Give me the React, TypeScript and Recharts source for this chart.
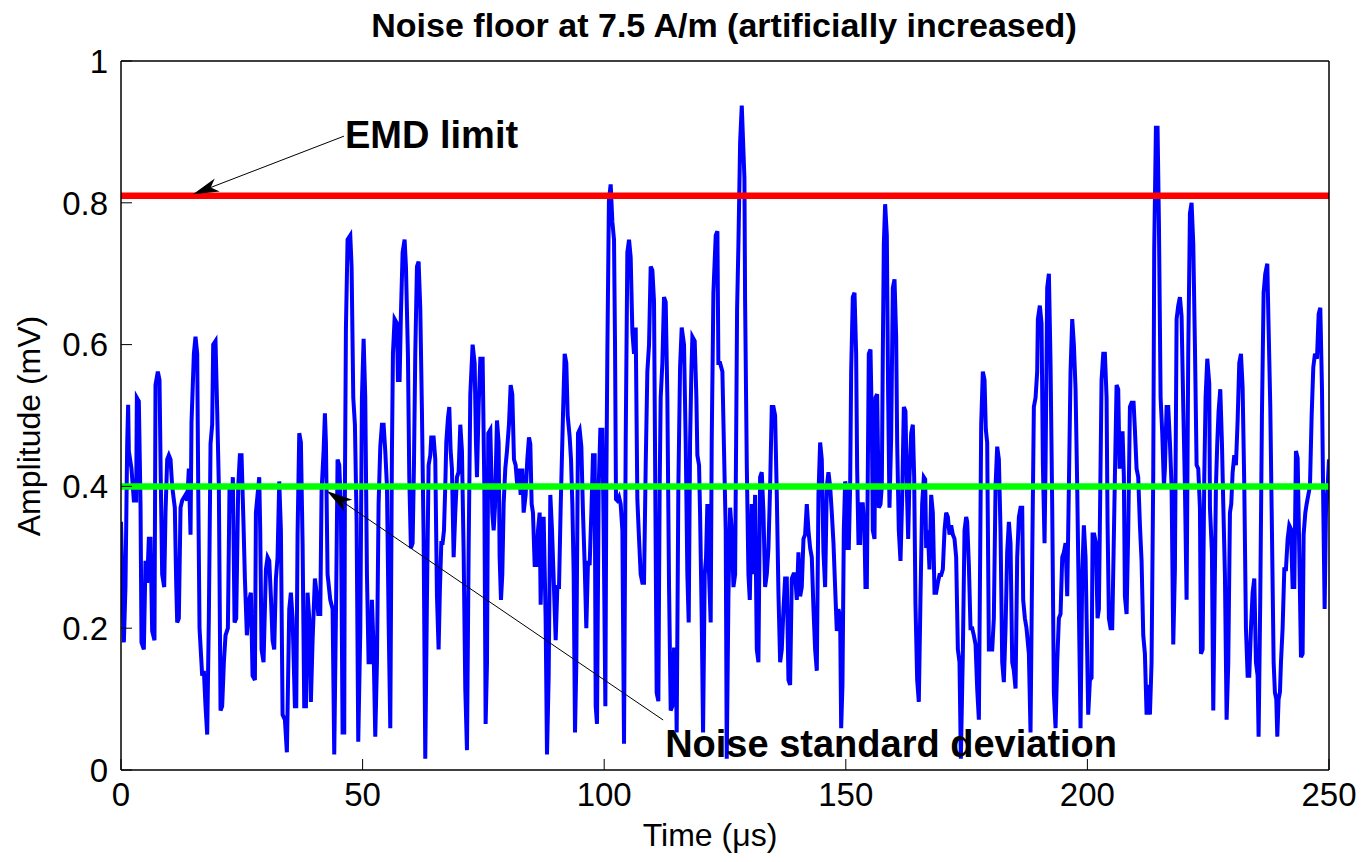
import { LineChart, Line, XAxis, YAxis, ReferenceLine } from "recharts";

// time in µs, amplitude in mV
const NOISE_TRACE: [number, number][] = [
  [0, 0.35], [0.59, 0.18], [0.93, 0.26], [1.28, 0.46], [1.48, 0.515], [1.62, 0.45], [2.17, 0.425], [2.66, 0.38], [3.14, 0.38], [3.28, 0.525],
  [3.69, 0.52], [4.04, 0.375], [4.24, 0.18], [4.73, 0.17], [5.07, 0.295], [5.42, 0.264], [5.76, 0.326], [6.11, 0.326], [6.45, 0.196], [6.93, 0.183],
  [7.14, 0.543], [7.62, 0.562], [7.97, 0.55], [8.25, 0.4], [8.52, 0.276], [8.94, 0.258], [9.21, 0.363], [9.56, 0.438], [9.9, 0.444], [10.25, 0.438],
  [10.59, 0.4], [11.14, 0.37], [11.42, 0.264], [11.63, 0.208], [11.97, 0.214], [12.32, 0.37], [12.66, 0.38], [13.35, 0.388], [13.7, 0.38], [14.04, 0.425],
  [14.39, 0.332], [14.59, 0.49], [15.08, 0.587], [15.42, 0.611], [15.77, 0.587], [15.98, 0.4], [16.25, 0.2], [16.8, 0.133], [17.15, 0.14], [17.49, 0.09],
  [17.84, 0.05], [18.18, 0.214], [18.53, 0.46], [18.87, 0.487], [19.08, 0.6], [19.56, 0.605], [19.91, 0.506], [20.25, 0.4], [20.6, 0.084], [20.94, 0.09],
  [21.29, 0.152], [21.63, 0.19], [22.12, 0.2], [22.46, 0.4], [22.88, 0.363], [23.15, 0.413], [23.5, 0.208], [23.84, 0.214], [24.26, 0.4], [24.6, 0.444],
  [24.95, 0.444], [25.36, 0.345], [25.64, 0.27], [26.05, 0.19], [26.54, 0.24], [26.88, 0.25], [27.23, 0.133], [27.71, 0.127], [27.92, 0.363], [28.26, 0.388],
  [28.61, 0.413], [28.81, 0.338], [29.09, 0.17], [29.5, 0.152], [29.99, 0.283], [30.33, 0.3], [30.68, 0.295], [31.02, 0.245], [31.37, 0.183], [31.71, 0.17],
  [32.06, 0.27], [32.4, 0.3], [32.75, 0.407], [33.09, 0.338], [33.44, 0.078], [33.92, 0.071], [34.33, 0.025], [34.82, 0.227], [35.16, 0.25], [35.51, 0.214],
  [35.99, 0.09], [36.27, 0.09], [36.54, 0.332], [36.89, 0.475], [37.23, 0.462], [37.58, 0.32], [37.92, 0.09], [38.27, 0.09], [38.61, 0.25], [38.96, 0.214],
  [39.3, 0.096], [39.65, 0.183], [40.13, 0.27], [40.48, 0.25], [40.82, 0.22], [41.24, 0.22], [41.51, 0.394], [41.93, 0.45], [42.2, 0.503], [42.41, 0.462],
  [42.75, 0.276], [43.31, 0.24], [43.79, 0.227], [44.13, 0.022], [44.55, 0.258], [44.82, 0.438], [45.17, 0.43], [45.51, 0.37], [45.86, 0.053], [46.2, 0.053],
  [46.34, 0.4], [46.55, 0.624], [46.89, 0.748], [47.45, 0.754], [47.72, 0.71], [48.07, 0.525], [48.41, 0.487], [48.76, 0.35], [49.1, 0.04], [49.52, 0.196],
  [49.86, 0.525], [50.21, 0.608], [50.55, 0.525], [50.9, 0.276], [51.24, 0.152], [51.59, 0.152], [51.93, 0.24], [52.28, 0.17], [52.62, 0.047], [52.97, 0.152],
  [53.31, 0.375], [53.66, 0.456], [54, 0.487], [54.35, 0.487], [54.69, 0.45], [55.04, 0.4], [55.38, 0.214], [55.73, 0.059], [56.07, 0.45], [56.28, 0.587],
  [56.62, 0.636], [57.11, 0.63], [57.31, 0.55], [57.66, 0.55], [57.93, 0.643], [58.28, 0.73], [58.69, 0.748], [58.97, 0.71], [59.38, 0.587], [59.66, 0.413],
  [60, 0.313], [60.35, 0.32], [60.63, 0.43], [60.9, 0.587], [61.25, 0.71], [61.59, 0.717], [61.94, 0.65], [62.28, 0.506], [62.63, 0.326], [62.97, 0.016],
  [63.32, 0.245], [63.66, 0.43], [64.01, 0.444], [64.21, 0.469], [64.7, 0.469], [65.04, 0.438], [65.39, 0.245], [65.73, 0.17], [66.01, 0.258], [66.29, 0.32],
  [66.56, 0.32], [66.84, 0.338], [67.11, 0.4], [67.32, 0.462], [67.67, 0.497], [67.94, 0.512], [68.22, 0.45], [68.49, 0.425], [68.84, 0.3], [69.18, 0.363],
  [69.53, 0.413], [69.87, 0.42], [70.22, 0.487], [70.56, 0.45], [70.91, 0.307], [71.25, 0.115], [71.6, 0.028], [71.94, 0.307], [72.29, 0.53], [72.77, 0.6],
  [73.19, 0.574], [73.46, 0.462], [73.67, 0.413], [74.01, 0.512], [74.36, 0.58], [74.84, 0.58], [75.19, 0.4], [75.46, 0.065], [75.74, 0.15], [76.01, 0.475],
  [76.43, 0.48], [76.84, 0.363], [77.12, 0.338], [77.39, 0.37], [77.81, 0.493], [78.15, 0.462], [78.36, 0.3], [78.64, 0.24], [78.91, 0.276], [79.19, 0.375],
  [79.53, 0.425], [79.88, 0.45], [80.29, 0.487], [80.64, 0.543], [80.98, 0.53], [81.33, 0.438], [81.67, 0.43], [82.02, 0.4], [82.36, 0.425], [82.71, 0.388],
  [83.05, 0.425], [83.33, 0.363], [83.74, 0.388], [84.09, 0.438], [84.43, 0.469], [84.71, 0.46], [84.99, 0.375], [85.26, 0.363], [85.61, 0.289], [85.95, 0.289],
  [86.3, 0.338], [86.64, 0.363], [86.85, 0.233], [87.13, 0.326], [87.47, 0.357], [87.88, 0.214], [88.16, 0.022], [88.51, 0.133], [88.85, 0.388], [89.2, 0.338],
  [89.54, 0.27], [89.96, 0.183], [90.3, 0.258], [90.65, 0.258], [90.99, 0.37], [91.47, 0.5], [91.82, 0.587], [92.16, 0.574], [92.44, 0.5], [92.85, 0.47],
  [93.13, 0.438], [93.41, 0.375], [93.68, 0.276], [93.96, 0.053], [94.23, 0.15], [94.58, 0.475], [94.92, 0.48], [95.27, 0.456], [95.61, 0.363], [95.96, 0.289],
  [96.3, 0.2], [96.65, 0.295], [96.99, 0.289], [97.34, 0.363], [97.68, 0.444], [98.03, 0.444], [98.24, 0.09], [98.51, 0.065], [98.86, 0.4], [99.2, 0.48],
  [99.62, 0.48], [99.89, 0.338], [100.24, 0.09], [100.44, 0.4], [100.65, 0.587], [100.98, 0.804], [101.34, 0.826], [101.69, 0.773], [102.03, 0.748], [102.24, 0.6],
  [102.44, 0.382], [102.72, 0.38], [103.07, 0.385], [103.41, 0.375], [103.76, 0.338], [104.1, 0.037], [104.45, 0.462], [104.79, 0.73], [105.14, 0.748], [105.48, 0.723],
  [105.83, 0.618], [106.17, 0.587], [106.52, 0.624], [106.86, 0.382], [107.21, 0.326], [107.55, 0.276], [107.9, 0.264], [108.24, 0.264], [108.59, 0.43], [108.93, 0.562],
  [109.28, 0.6], [109.62, 0.71], [109.97, 0.705], [110.31, 0.661], [110.52, 0.45], [110.86, 0.109], [111.21, 0.097], [111.48, 0.4], [111.69, 0.525], [112.04, 0.574],
  [112.38, 0.667], [112.73, 0.66], [113.07, 0.525], [113.42, 0.258], [113.76, 0.084], [114.11, 0.09], [114.45, 0.17], [114.8, 0.17], [115, 0.053], [115.35, 0.4],
  [115.7, 0.568], [116.04, 0.624], [116.52, 0.6], [116.87, 0.462], [117.21, 0.276], [117.49, 0.208], [117.77, 0.462], [118.04, 0.562], [118.25, 0.611], [118.73, 0.605],
  [119.08, 0.525], [119.28, 0.444], [119.63, 0.43], [119.84, 0.363], [120.18, 0.214], [120.46, 0.053], [120.8, 0.276], [121.08, 0.3], [121.35, 0.375], [121.7, 0.276],
  [122.04, 0.208], [122.25, 0.462], [122.6, 0.673], [123.08, 0.754], [123.43, 0.76], [123.63, 0.574], [123.98, 0.574], [124.46, 0.562], [124.8, 0.45], [125.15, 0.338],
  [125.36, 0.016], [125.71, 0.245], [126.06, 0.37], [126.4, 0.338], [126.75, 0.258], [127.09, 0.276], [127.3, 0.462], [127.5, 0.649], [127.78, 0.742], [128.13, 0.885],
  [128.47, 0.937], [128.75, 0.885], [129.02, 0.835], [129.16, 0.661], [129.51, 0.43], [129.85, 0.276], [130.13, 0.24], [130.54, 0.375], [130.89, 0.276], [131.23, 0.388],
  [131.58, 0.17], [131.92, 0.152], [132.27, 0.413], [132.61, 0.42], [132.96, 0.363], [133.3, 0.258], [133.65, 0.276], [133.99, 0.313], [134.34, 0.4], [134.68, 0.512],
  [135.03, 0.512], [135.37, 0.5], [135.72, 0.388], [136.06, 0.25], [136.41, 0.152], [136.75, 0.17], [137.1, 0.227], [137.44, 0.27], [137.79, 0.27], [138.13, 0.127],
  [138.48, 0.12], [138.82, 0.27], [139.17, 0.276], [139.51, 0.276], [139.86, 0.24], [140.2, 0.307], [140.55, 0.245], [140.89, 0.258], [141.24, 0.326], [141.58, 0.332],
  [141.93, 0.375], [142.27, 0.338], [142.62, 0.313], [142.96, 0.3], [143.31, 0.227], [143.65, 0.17], [144, 0.14], [144.34, 0.388], [144.69, 0.462], [145.03, 0.438],
  [145.38, 0.307], [145.72, 0.258], [146.07, 0.4], [146.41, 0.42], [146.76, 0.4], [147.1, 0.363], [147.45, 0.32], [147.79, 0.258], [148.14, 0.196], [148.48, 0.227],
  [148.83, 0.214], [149.04, 0.059], [149.31, 0.12], [149.59, 0.338], [149.86, 0.407], [150.07, 0.4], [150.35, 0.313], [150.62, 0.313], [150.9, 0.4], [151.11, 0.562],
  [151.45, 0.667], [151.8, 0.673], [152.14, 0.587], [152.35, 0.425], [152.62, 0.32], [152.97, 0.32], [153.18, 0.375], [153.52, 0.375], [153.87, 0.338], [154.07, 0.258],
  [154.35, 0.258], [154.56, 0.425], [154.76, 0.587], [155.11, 0.593], [155.38, 0.493], [155.59, 0.338], [155.94, 0.326], [156.14, 0.525], [156.49, 0.53], [156.83, 0.37],
  [157.18, 0.375], [157.45, 0.4], [157.66, 0.587], [157.87, 0.742], [158.14, 0.798], [158.49, 0.754], [158.77, 0.525], [159.04, 0.37], [159.39, 0.469], [159.73, 0.68],
  [160.08, 0.692], [160.42, 0.611], [160.63, 0.462], [160.97, 0.338], [161.32, 0.295], [161.66, 0.382], [162.01, 0.512], [162.35, 0.506], [162.63, 0.4], [162.91, 0.326],
  [163.18, 0.413], [163.53, 0.475], [163.87, 0.487], [164.15, 0.413], [164.42, 0.233], [164.77, 0.127], [165.11, 0.096], [165.46, 0.245], [165.8, 0.375], [166.15, 0.413],
  [166.43, 0.41], [166.63, 0.313], [166.98, 0.338], [167.32, 0.283], [167.67, 0.388], [168.01, 0.363], [168.36, 0.25], [168.7, 0.25], [169.05, 0.264], [169.39, 0.275],
  [169.74, 0.275], [170.08, 0.283], [170.43, 0.338], [170.77, 0.363], [171.12, 0.357], [171.46, 0.332], [171.81, 0.345], [172.15, 0.332], [172.5, 0.326], [172.84, 0.3],
  [173.19, 0.17], [173.53, 0.152], [173.81, 0.016], [174.22, 0.164], [174.57, 0.338], [174.91, 0.357], [175.12, 0.35], [175.47, 0.289], [175.81, 0.2], [176.16, 0.2],
  [176.5, 0.19], [176.85, 0.177], [177.19, 0.115], [177.54, 0.071], [177.74, 0.245], [178.02, 0.487], [178.36, 0.562], [178.71, 0.55], [178.98, 0.48], [179.26, 0.462],
  [179.61, 0.17], [179.95, 0.17], [180.3, 0.17], [180.64, 0.214], [180.99, 0.4], [181.33, 0.456], [181.68, 0.438], [182.02, 0.338], [182.37, 0.152], [182.71, 0.124],
  [183.06, 0.2], [183.4, 0.307], [183.75, 0.35], [184.09, 0.32], [184.44, 0.152], [184.78, 0.14], [185.13, 0.115], [185.47, 0.3], [185.82, 0.357], [186.16, 0.37],
  [186.51, 0.37], [186.71, 0.24], [187.06, 0.214], [187.4, 0.2], [187.89, 0.164], [188.23, 0.053], [188.58, 0.3], [188.92, 0.512], [189.27, 0.525], [189.61, 0.562],
  [189.75, 0.636], [190.16, 0.655], [190.51, 0.63], [190.79, 0.43], [191.13, 0.32], [191.34, 0.43], [191.68, 0.68], [192.03, 0.7], [192.37, 0.574], [192.72, 0.37],
  [193.06, 0.109], [193.41, 0.059], [193.75, 0.152], [194.1, 0.214], [194.44, 0.22], [194.79, 0.3], [195.13, 0.307], [195.48, 0.32], [195.82, 0.245], [196.17, 0.4],
  [196.51, 0.562], [196.86, 0.636], [197.2, 0.6], [197.55, 0.537], [197.89, 0.4], [198.24, 0.227], [198.58, 0.059], [198.93, 0.276], [199.27, 0.345], [199.62, 0.3],
  [200.17, 0.078], [200.52, 0.127], [200.86, 0.13], [201.07, 0.332], [201.41, 0.332], [201.76, 0.32], [202.1, 0.214], [202.38, 0.227], [202.59, 0.35], [202.93, 0.55],
  [203.28, 0.587], [203.62, 0.587], [203.97, 0.525], [204.17, 0.35], [204.45, 0.214], [204.79, 0.2], [205.14, 0.2], [205.42, 0.307], [205.69, 0.413], [206.04, 0.543],
  [206.38, 0.537], [206.66, 0.425], [206.93, 0.475], [207.28, 0.475], [207.55, 0.413], [207.76, 0.245], [208.11, 0.22], [208.45, 0.338], [208.8, 0.512], [209.14, 0.518],
  [209.56, 0.518], [209.83, 0.48], [210.18, 0.425], [210.52, 0.413], [210.87, 0.345], [211.21, 0.295], [211.56, 0.19], [211.9, 0.164], [212.25, 0.078], [212.59, 0.12],
  [212.94, 0.078], [213.28, 0.152], [213.63, 0.419], [213.83, 0.736], [214.18, 0.906], [214.52, 0.906], [214.8, 0.773], [215.15, 0.525], [215.49, 0.475], [215.84, 0.4],
  [216.04, 0.425], [216.39, 0.512], [216.73, 0.512], [217.08, 0.462], [217.42, 0.4], [217.77, 0.177], [218.11, 0.283], [218.46, 0.636], [218.8, 0.655], [219.15, 0.667],
  [219.49, 0.64], [219.84, 0.512], [220.18, 0.4], [220.53, 0.24], [220.87, 0.587], [221.22, 0.785], [221.56, 0.8], [221.91, 0.742], [222.25, 0.6], [222.6, 0.43],
  [222.94, 0.425], [223.29, 0.37], [223.5, 0.164], [223.84, 0.17], [224.19, 0.413], [224.46, 0.525], [224.81, 0.58], [225.22, 0.545], [225.36, 0.37], [225.77, 0.307],
  [226.05, 0.084], [226.32, 0.24], [226.6, 0.4], [226.88, 0.462], [227.15, 0.506], [227.5, 0.537], [227.84, 0.462], [228.12, 0.375], [228.46, 0.276], [228.81, 0.071],
  [229.15, 0.15], [229.5, 0.363], [229.77, 0.375], [230.05, 0.419], [230.4, 0.444], [230.74, 0.43], [231.09, 0.493], [231.43, 0.574], [231.78, 0.587], [232.12, 0.54],
  [232.47, 0.4], [232.81, 0.2], [233.16, 0.133], [233.5, 0.133], [233.85, 0.2], [234.19, 0.25], [234.54, 0.27], [234.88, 0.152], [235.23, 0.133], [235.43, 0.047],
  [235.78, 0.245], [236.12, 0.5], [236.47, 0.673], [236.81, 0.7], [237.23, 0.714], [237.5, 0.624], [237.85, 0.512], [238.19, 0.338], [238.54, 0.152], [238.81, 0.109],
  [239.09, 0.1], [239.3, 0.047], [239.57, 0.1], [239.85, 0.11], [240.06, 0.152], [240.4, 0.2], [240.75, 0.283], [241.09, 0.283], [241.44, 0.326], [241.78, 0.345],
  [242.13, 0.34], [242.47, 0.258], [242.82, 0.258], [243.16, 0.45], [243.51, 0.44], [243.85, 0.307], [244.2, 0.159], [244.54, 0.164], [244.75, 0.332], [245.1, 0.363],
  [245.37, 0.375], [245.72, 0.388], [246.06, 0.4], [246.41, 0.5], [246.75, 0.568], [247.1, 0.587], [247.51, 0.58], [247.86, 0.643], [248.2, 0.652], [248.55, 0.537],
  [248.82, 0.37], [249.1, 0.227], [249.37, 0.363], [249.72, 0.4], [250, 0.438],
];

const TIME_TICKS = [0, 50, 100, 150, 200, 250];
const AMP_TICKS = [0, 0.2, 0.4, 0.6, 0.8, 1];

const EMD_LIMIT = 0.81;
const NOISE_STD = 0.4;

// annotation arrows: [text anchor point, arrow tip] in data units
const EMD_ARROW = [{ x: 46.15, y: 0.894 }, { x: 14.9, y: 0.812 }];
const STD_ARROW = [{ x: 112.2, y: 0.0705 }, { x: 42.6, y: 0.3935 }];

const data = NOISE_TRACE.map(([t, v]) => ({ t, v }));

const FONT = "'Liberation Sans', Arial, Helvetica, sans-serif";
const tickStyle = { fontSize: 33, fill: "#000", fontFamily: FONT };
const axisLine = { stroke: "#000", strokeWidth: 1.5 };
const tickLine = { stroke: "#000", strokeWidth: 1 };

const arrowShape = (text: string, dx: number, dy: number) => (p: any) => {
  const { x1, y1, x2, y2 } = p;
  const ddx = x2 - x1;
  const ddy = y2 - y1;
  const len = Math.hypot(ddx, ddy) || 1;
  const ux = ddx / len;
  const uy = ddy / len;
  const px = -uy;
  const py = ux;
  const bx = x2 - ux * 26;
  const by = y2 - uy * 26;
  const nx = x2 - ux * 19;
  const ny = y2 - uy * 19;
  const pts = `${x2},${y2} ${bx + px * 7},${by + py * 7} ${nx},${ny} ${bx - px * 7},${by - py * 7}`;
  return (
    <g>
      <line x1={x1} y1={y1} x2={nx} y2={ny} stroke="#000" strokeWidth={1} />
      <polygon points={pts} fill="#000" />
      <text x={x1 + dx} y={y1 + dy} fontSize={38} fontWeight="bold" fontFamily={FONT} fill="#000">
        {text}
      </text>
    </g>
  );
};

export default function App() {
  return (
    <div style={{ position: "absolute", left: 0, top: 0, width: 1363, height: 862, background: "#fff" }}>
      <LineChart width={1363} height={862} data={data} margin={{ top: 60, right: 33, bottom: 0, left: 0 }}>
        <XAxis
          dataKey="t"
          type="number"
          domain={[0, 250]}
          allowDataOverflow
          ticks={TIME_TICKS}
          height={92}
          tick={tickStyle}
          tickSize={-11}
          tickMargin={24}
          axisLine={axisLine}
          tickLine={tickLine}
        />
        <XAxis
          xAxisId="top"
          orientation="top"
          dataKey="t"
          type="number"
          domain={[0, 250]}
          allowDataOverflow
          ticks={TIME_TICKS}
          height={1}
          tick={false}
          tickSize={-11}
          axisLine={axisLine}
          tickLine={tickLine}
        />
        <YAxis
          type="number"
          domain={[0, 1]}
          allowDataOverflow
          ticks={AMP_TICKS}
          width={121}
          tick={tickStyle}
          tickSize={-11}
          tickMargin={24}
          axisLine={axisLine}
          tickLine={tickLine}
        />
        <YAxis
          yAxisId="right"
          orientation="right"
          type="number"
          domain={[0, 1]}
          allowDataOverflow
          ticks={AMP_TICKS}
          width={1}
          tick={false}
          tickSize={-11}
          axisLine={axisLine}
          tickLine={tickLine}
        />
        {/* invisible copy that ties the frame axes (top / right) to the data */}
        <Line
          xAxisId="top"
          yAxisId="right"
          dataKey="v"
          stroke="none"
          dot={false}
          activeDot={false}
          isAnimationActive={false}
        />
        <Line
          type="linear"
          dataKey="v"
          stroke="#0000ff"
          strokeWidth={4}
          dot={false}
          isAnimationActive={false}
        />
        <ReferenceLine y={EMD_LIMIT} stroke="#ff0000" strokeWidth={6.5} />
        <ReferenceLine y={NOISE_STD} stroke="#00ff00" strokeWidth={6.5} />
        <ReferenceLine segment={EMD_ARROW} shape={arrowShape("EMD limit", 1, 12)} />
        <ReferenceLine segment={STD_ARROW} shape={arrowShape("Noise standard deviation", 2, 37)} />
      </LineChart>
      <svg width={1363} height={862} style={{ position: "absolute", left: 0, top: 0, pointerEvents: "none" }}>
        <text x={724} y={37} textAnchor="middle" fontSize={34} fontWeight="bold" fontFamily={FONT} fill="#000">
          Noise floor at 7.5 A/m (artificially increased)
        </text>
        <text x={710} y={846} textAnchor="middle" fontSize={32} fontFamily={FONT} fill="#000">
          Time (μs)
        </text>
        <text
          x={40}
          y={426}
          textAnchor="middle"
          fontSize={32}
          fontFamily={FONT}
          fill="#000"
          transform="rotate(-90, 40, 426)"
        >
          Amplitude (mV)
        </text>
      </svg>
    </div>
  );
}
